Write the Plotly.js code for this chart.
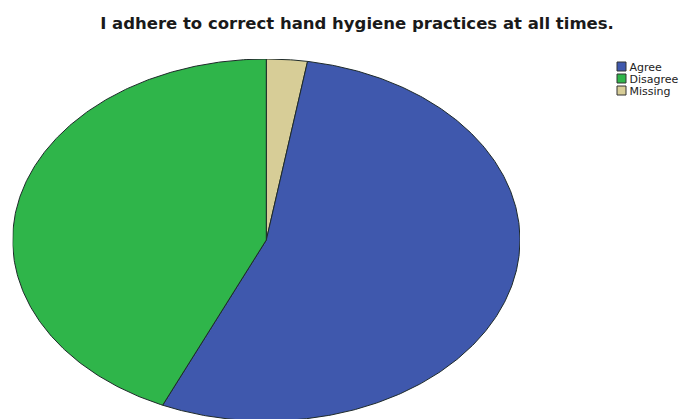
<!DOCTYPE html>
<html>
<head>
<meta charset="utf-8">
<script src="https://cdn.plot.ly/plotly-3.0.1.min.js"></script>
<style>html,body{margin:0;padding:0;background:#fff;}</style>
</head>
<body>
<div id="chart" style="width:695px;height:419px;"></div>
<script>
// Data (percent of respondents), drawn clockwise from 12 o'clock in this order
const sliceOrder = ["Missing", "Agree", "Disagree"];
const sliceValues = [2.6, 54.1, 43.3];
const legendOrder = ["Agree", "Disagree", "Missing"];
const colors = {Agree: "#3f58ad", Disagree: "#2fb54a", Missing: "#d7cd97"};

const total = sliceValues.reduce((a, b) => a + b, 0);
const traces = [];
let cum = 0;
sliceOrder.forEach((name, i) => {
  const a0 = cum / total * 2 * Math.PI;
  cum += sliceValues[i];
  const a1 = cum / total * 2 * Math.PI;
  const xs = [0], ys = [0];
  const n = Math.max(8, Math.ceil((a1 - a0) / 0.01));
  for (let k = 0; k <= n; k++) {
    const t = a0 + (a1 - a0) * k / n;
    xs.push(Math.sin(t));
    ys.push(Math.cos(t));
  }
  xs.push(0); ys.push(0);
  traces.push({
    type: "scatter", mode: "lines", x: xs, y: ys, fill: "toself",
    fillcolor: colors[name], line: {color: "#1e2a2a", width: 1},
    name: name, showlegend: false, hoverinfo: "name"
  });
});
legendOrder.forEach(name => {
  traces.push({
    type: "scatter", mode: "markers", x: [null], y: [null], name: name,
    marker: {symbol: "square", size: 9, color: colors[name], line: {color: "#333", width: 1}},
    showlegend: true
  });
});

const layout = {
  width: 695, height: 419,
  margin: {l: 0, r: 0, t: 0, b: 0, autoexpand: false},
  paper_bgcolor: "#ffffff", plot_bgcolor: "#ffffff",
  title: {
    text: "<b>I adhere to correct hand hygiene practices at all times.</b>",
    x: 357 / 695, xanchor: "center", y: 1 - 23 / 419, yanchor: "middle",
    font: {family: "DejaVu Sans, Verdana, sans-serif", size: 16.5, color: "#1a1a1a"}
  },
  xaxis: {domain: [12.6 / 695, 520 / 695], range: [-1, 1], visible: false, fixedrange: true},
  yaxis: {domain: [0, 1 - 59 / 419], range: [1 - 360 / 181, 1], visible: false, fixedrange: true},
  showlegend: true,
  legend: {
    x: 601.5 / 695, xanchor: "left", y: 1 - 52 / 419, yanchor: "top",
    font: {family: "DejaVu Sans, Verdana, sans-serif", size: 11, color: "#222"},
    bgcolor: "rgba(0,0,0,0)", tracegroupgap: 0, itemwidth: 30
  }
};

Plotly.newPlot("chart", traces, layout, {displayModeBar: false, staticPlot: true}).then(gd => {
  // compact the legend rows like the original (SPSS-style tight legend)
  const items = gd.querySelectorAll(".legend .traces");
  let baseY = null;
  items.forEach((g, i) => {
    const m = /translate\(([^,]+),\s*([^)]+)\)/.exec(g.getAttribute("transform") || "");
    const x0 = m ? parseFloat(m[1]) : 0;
    const y0 = m ? parseFloat(m[2]) : 0;
    if (baseY === null) baseY = y0;
    g.setAttribute("transform", "translate(" + x0 + "," + (baseY + i * 12) + ")");
    const t = g.querySelector("text.legendtext");
    if (t) t.setAttribute("x", 28);
    g.querySelectorAll(".legendpoints path.point").forEach(p => {
      p.setAttribute("transform", "translate(20,0) scale(1.45,1)");
    });
  });
});
</script>
</body>
</html>
